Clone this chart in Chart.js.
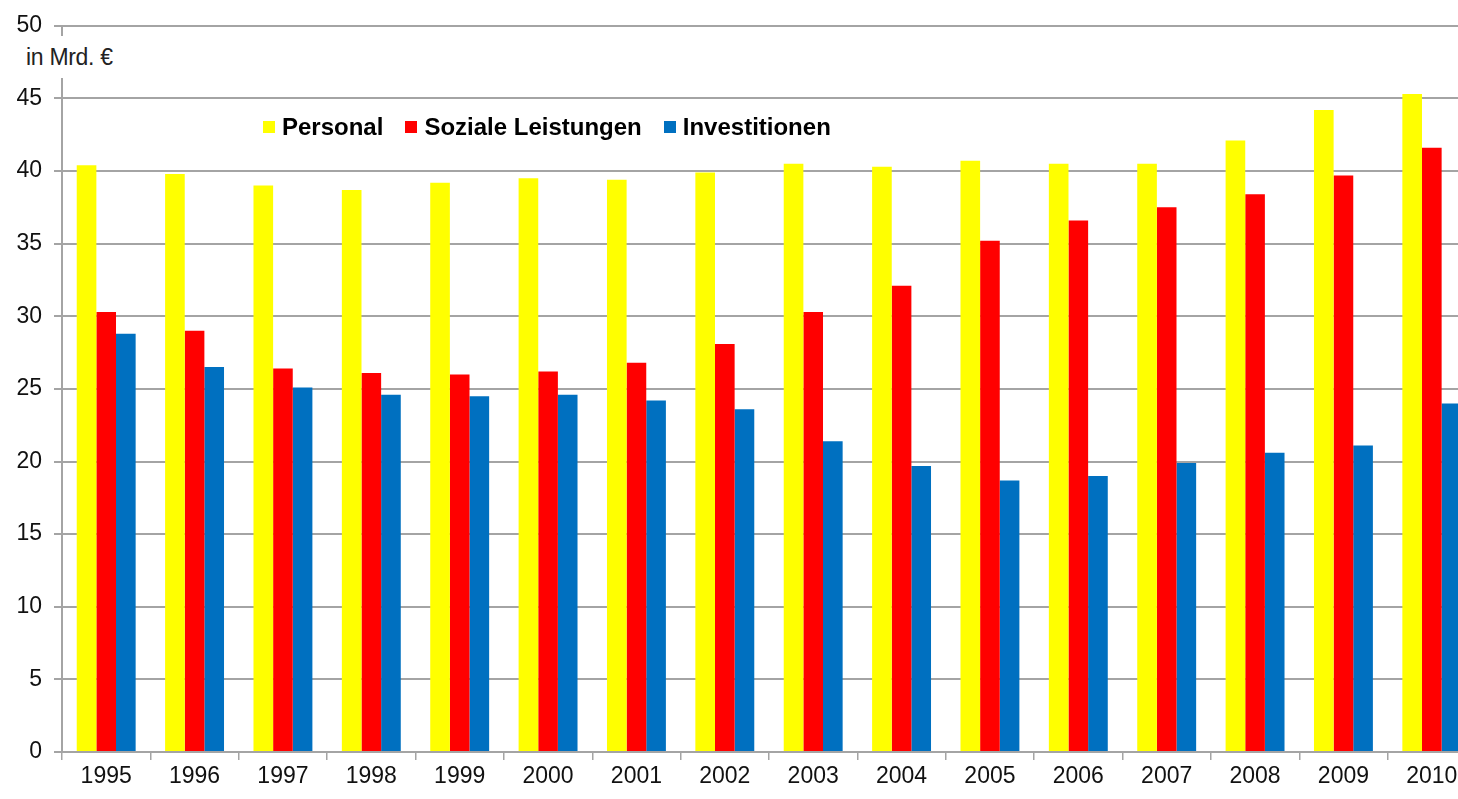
<!DOCTYPE html>
<html>
<head>
<meta charset="utf-8">
<script src="https://cdn.jsdelivr.net/npm/chart.js@4/dist/chart.umd.min.js"></script>
<style>
  html, body { margin: 0; padding: 0; background: #fff; overflow: hidden; }
  #wrap { position: relative; width: 1484px; height: 799px; }
  #unit {
    position: absolute; left: 22px; top: 36px; height: 42px; width: 104px;
    background: #fff; font: 23px "Liberation Sans", Arial, sans-serif; color: #222;
    line-height: 42px; letter-spacing: -0.3px; padding-left: 4px;
  }
  #legend {
    position: absolute; left: 263px; top: 113px; display: flex; align-items: center;
    font: bold 24px "Liberation Sans", Arial, sans-serif; color: #000;
  }
  .item { display: flex; align-items: center; margin-right: 22px; }
  .box { width: 12px; height: 12px; margin-right: 7px; }
</style>
</head>
<body>
<div id="wrap">
  <canvas id="chart" width="1484" height="799"></canvas>
  <div id="unit">in Mrd. €</div>
  <div id="legend"></div>
</div>
<script>
const years = ['1995', '1996', '1997', '1998', '1999', '2000', '2001', '2002',
               '2003', '2004', '2005', '2006', '2007', '2008', '2009', '2010'];
const personal = [40.4, 39.8, 39.0, 38.7, 39.2, 39.5, 39.4, 39.9,
                  40.5, 40.3, 40.7, 40.5, 40.5, 42.1, 44.2, 45.3];
const sozialeLeistungen = [30.3, 29.0, 26.4, 26.1, 26.0, 26.2, 26.8, 28.1,
                           30.3, 32.1, 35.2, 36.6, 37.5, 38.4, 39.7, 41.6];
const investitionen = [28.8, 26.5, 25.1, 24.6, 24.5, 24.6, 24.2, 23.6,
                       21.4, 19.7, 18.7, 19.0, 19.9, 20.6, 21.1, 24.0];
const yTicks = [0, 5, 10, 15, 20, 25, 30, 35, 40, 45, 50];

const series = [
    { label: 'Personal', data: personal, color: '#FFFF00' },
    { label: 'Soziale Leistungen', data: sozialeLeistungen, color: '#FF0000' },
    { label: 'Investitionen', data: investitionen, color: '#0070C0' },
];

// legend as plain html
const legendEl = document.getElementById('legend');
series.forEach(s => {
    const item = document.createElement('div');
    item.className = 'item';
    item.innerHTML = `<span class="box" style="background:${s.color}"></span><span>${s.label}</span>`;
    legendEl.appendChild(item);
});

const gridColor = '#a4a4a4';
const tickFont = { family: "'Liberation Sans', Arial, sans-serif", size: 23 };

new Chart(document.getElementById('chart').getContext('2d'), {
    type: 'bar',
    data: {
        labels: years,
        datasets: series.map(s => ({
            label: s.label,
            data: s.data,
            backgroundColor: s.color,
            borderWidth: 0,
            categoryPercentage: 2 / 3,
            barPercentage: 1.0,
        })),
    },
    options: {
        responsive: false,
        animation: false,
        layout: { padding: { top: 22, right: 8, left: 0, bottom: 0 } },
        plugins: { legend: { display: false }, tooltip: { enabled: false } },
        scales: {
            x: {
                grid: { display: true, drawOnChartArea: false, offset: true, tickLength: 8, color: gridColor, lineWidth: 1.5 },
                border: { color: gridColor, width: 2 },
                ticks: { color: '#111', font: tickFont, padding: 3, maxRotation: 0 },
                afterFit: (scale) => { scale.height = 47; },
            },
            y: {
                min: 0,
                max: 50,
                afterBuildTicks: (scale) => { scale.ticks = yTicks.map(v => ({ value: v })); },
                grid: { color: gridColor, lineWidth: 2, tickLength: 8 },
                border: { color: gridColor, width: 2 },
                ticks: { color: '#111', font: tickFont, padding: 12 },
                afterFit: (scale) => { scale.width = 62; },
            },
        },
    },
});
</script>
</body>
</html>
